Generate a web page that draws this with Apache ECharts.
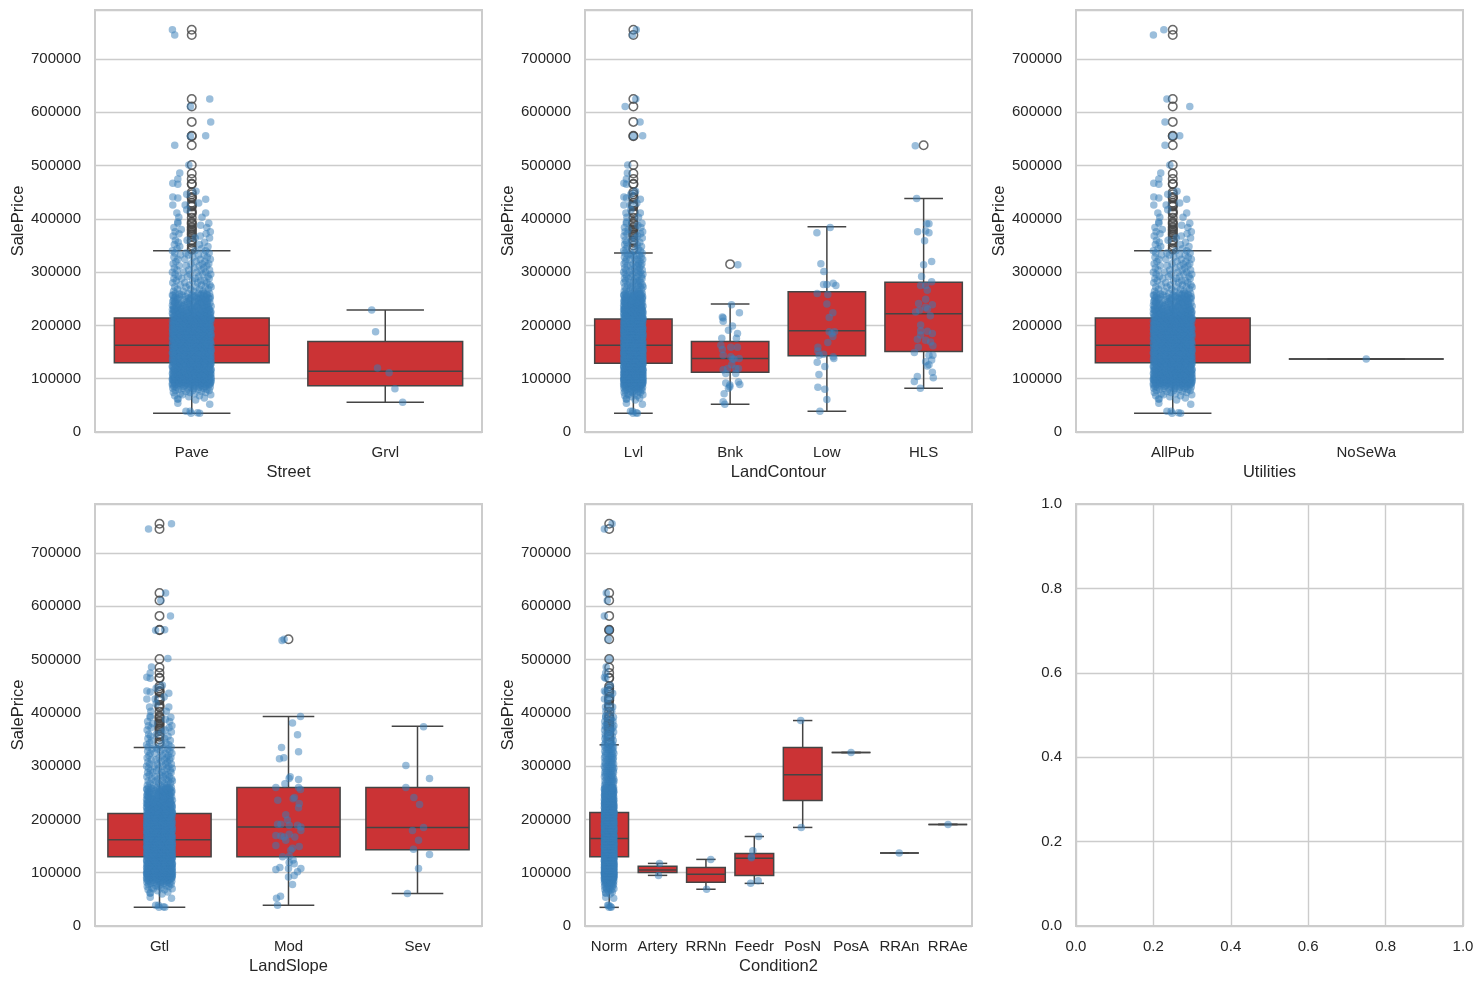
<!DOCTYPE html>
<html><head><meta charset="utf-8">
<style>html,body{margin:0;padding:0;background:#fff}#c{width:1484px;height:984px}</style>
<script src="https://cdn.jsdelivr.net/npm/echarts@6/dist/echarts.min.js"></script>
</head><body><div id="c"></div>
<script>
// Box statistics in thousands: [low whisker, Q1, median, Q3, high whisker]
const streetCats = ['Pave','Grvl'];
const streetBoxes = [[35,130,163,214,340],[56,87,114,170,229]];
const contourCats = ['Lvl','Bnk','Low','HLS'];
const contourBoxes = [[35,129,163,212,336],[52,112,138,170,240],[39,143,190,263,385],[82,151,222,281,438]];
const utilCats = ['AllPub','NoSeWa'];
const utilBoxes = [[35,130,163,214,340],[137,137,137,137,137]];
const slopeCats = ['Gtl','Mod','Sev'];
const slopeBoxes = [[35,130,162,211,335],[39,130,186,260,393],[61,143,185,260,375]];
const condCats = ['Norm','Artery','RRNn','Feedr','PosN','PosA','RRAn','RRAe'];
const condBoxes = [[35,130,164,213,340],[95,100.6,105,112,117.5],[69,82,97,110,125],[80,95,127,136,168],[185,235.6,284,335,385.6],[325.6,325.6,325.6,325.6,325.6],[137,137,137,137,137],[190.6,190.6,190.6,190.6,190.6]];

// Outlier prices (thousands)
const fliersTop = [755,745,625,611,582,556,555];
const fliersMid = [501,485,475,466,465,450,446,441,440,438,430,426,424,423,415,412,410,402,394,392,390,385,383,380,378,375,372,370,367,360,359,355,350,345,342];

// Strip dots: rows of [price in thousands, horizontal offsets in thousandths of a category]
const sharedRows = [
[35,-4,41],[36,30],[39,-30,-8],[52,93],[54,-72],[60,20],[62,-74,-70],[64,65],[66,-15],[68,-88,40],[70,98,-48],[72,-60,15],
[74,-95,72,-10],[76,-30,50],[78,-85,90,5],[80,-68,-20,34,78],[82,-98,-44,12,60],[84,-80,-5,95,38],[86,-58,22,70,-92],
[88,-100,-34,48,88,-12],[90,-72,6,64,-50,96],[92,-90,-24,30,80,-62,52],[94,-40,14,99,-78,66,-8],[96,-96,-56,-18,42,74,20,88],
[98,-84,-30,6,58,92,-64,34,-100],[101,-50,-12,26,70,-92,100,48,-74],[104,-98,-66,-28,16,54,82,-6,36],[107,-82,-44,2,38,94,-20,66,-58],
[110,-100,-60,-10,30,76,50,-36,96],[113,-76,-38,10,44,88,-90,22,64],[116,-94,-52,-16,28,60,99,-72,4],[119,-68,-26,18,56,84,-86,40,-6],
[122,-100,-46,-2,34,72,92,-62,12],[125,-80,-32,8,48,96,-56,66,24],[128,-92,-14,26,62,100,-70,-40,44],[131,-58,-20,14,52,86,-98,-78,32],
[134,-84,-48,0,38,76,98,-28,60],[137,-100,-64,-12,24,68,90,-36,46],[140,-74,-30,10,56,94,-90,-52,30],[143,-96,-44,-4,42,80,100,-22,62],
[146,-66,-26,16,50,88,-82,-8,72],[149,-100,-54,-18,28,64,96,-72,6],[152,-86,-36,4,40,78,-60,22,100],[155,-94,-48,-10,34,70,90,-24,54],
[158,-76,-28,12,58,98,-100,-56,44],[161,-88,-40,-2,26,66,84,-68,18],[164,-98,-62,-16,36,74,100,-30,52],[167,-70,-22,8,46,92,-84,-46,28],
[170,-92,-50,-6,32,62,96,-74,14],[173,-100,-34,20,56,82,-64,-14,42],[176,-80,-42,2,38,90,-96,68,-20],[179,-58,-12,24,72,100,-88,48,-32],
[182,-94,-66,-26,16,60,84,-46,36],[185,-78,-36,6,44,96,-100,66,-16],[188,-90,-52,-8,30,76,-70,54,12],[191,-98,-28,22,58,92,-62,40,-44],
[194,-84,-40,4,48,86,-18,68,100],[197,-72,-24,14,34,78,-96,-54,56],[200,-100,-58,-10,42,94,-34,20,70],[203,-88,-46,0,62,82,-70,28,-16],
[206,-76,-30,18,50,98,-94,-6,38],[209,-92,-56,-20,26,72,-40,8,88],[212,-82,-12,36,64,100,-66,-34,46],[215,-98,-48,4,54,80,-74,22,92],
[218,-86,-26,30,68,-58,10],[221,-96,-42,-4,44,88,74],[224,-70,-18,20,60,98,-52],[227,-90,-34,6,52,78,-64],[230,-100,-60,16,40,92,-10],
[233,-82,-28,-2,66,84],[236,-94,-46,24,56,100],[239,-72,-14,32,76,-38],[242,-88,-54,8,48,94],[245,-98,-24,18,62,82],[248,-78,-40,-6,36,70],
[251,-92,-16,28,88,54],[254,-66,-32,12,74,96],[257,-100,-50,2,44,80],[260,-84,-20,34,64,92],[264,-94,-44,10,58],[268,-74,-6,40,86],
[272,-88,-30,22,70,100],[276,-60,-12,50,94],[280,-98,-36,30,78],[284,-80,4,46,66],[288,-92,-52,18,90],[292,-70,-22,36,84],
[296,-86,-8,58,98],[300,-100,-42,26,72],[304,-76,-16,48,92],[308,-90,12,62],[312,-64,-28,78,38],[316,-96,-4,54,88],[320,-82,22,68],
[324,-72,-36,44,96],[328,-92,6,80],[332,-58,34,64,-18],[336,-88,-30,90],[340,-100,16,72],[344,-76,50],[348,-62,84],[352,-90,40],
[356,-70,66],[360,-84,-24],[364,18,92],[368,-96,44],[372,-66,74],[376,-86,96],[380,-54],[384,-92,78],[388,46],
[392,88,-72],[394,-72],[403,-67,53],[411,-77,72],[417,-26],[426,-98,-34],[430,36],[437,72],[439,-72],[441,-98],[446,-26],[452,22],[465,-72],[467,-98],[475,-72],[486,-62]
];
// Second pass through the crowded middle of the column
const crowdRows = [
[86,-42,8,56],[89,-84,-20,74,32],[91,-100,-6,44,90],[93,-66,18,-32,96,60],[95,-88,-46,28,76,2],[97,-74,-12,50,100,-34],[99,-94,-54,14,38,84,64],
[100,-80,-22,-44,6,62,90,-100,32],[103,-60,-14,22,46,74,-88,98,-36],[106,-92,-70,-30,10,52,86,30,-48],[109,-78,-18,18,42,68,100,-54,-96],
[112,-64,-32,-4,36,58,92,-84,12],[115,-98,-40,24,50,80,-70,-8,96],[118,-86,-56,-20,8,46,72,100,32],[121,-74,-34,16,40,66,90,-94,-10],
[124,-100,-68,-24,0,54,82,-44,28],[127,-82,-50,-6,20,60,94,-28,40],[130,-90,-62,-16,34,70,98,-38,6],[133,-72,-42,-10,22,48,88,-96,64],
[136,-86,-54,-20,14,36,78,100,-2],[139,-98,-66,-32,2,44,72,92,26],[142,-80,-12,18,52,84,-58,-36,68],[145,-92,-46,-24,8,38,96,-70,60],
[148,-76,-16,30,46,74,-100,-40,90],[151,-64,-30,12,56,82,-94,-6,34],[154,-84,-60,-18,24,66,100,-42,4],[157,-96,-50,-8,40,60,86,-26,16],
[160,-72,-36,2,32,76,94,-90,52],[163,-82,-56,-14,20,48,88,-4,70],[166,-100,-44,-22,10,60,78,-66,34],[169,-86,-32,16,54,98,-60,-10,74],
[172,-78,-52,-18,6,44,90,26,66],[175,-94,-28,30,58,84,-68,-8,-44],[178,-100,-74,-36,12,50,94,-16,70],[181,-84,-54,-4,22,64,88,-30,40],
[184,-92,-62,-20,8,48,78,100,30],[187,-70,-34,18,36,82,-98,-10,56],[190,-86,-48,-6,26,66,94,-26,4],[193,-100,-60,-14,16,52,74,-78,38],
[196,-90,-38,2,30,64,96,-58,-18],[199,-76,-24,10,46,88,-64,-42,72],[202,-96,-52,-8,34,60,80,18,-30],[205,-84,-66,-16,24,42,92,-36,70],
[208,-100,-72,-28,14,56,84,-46,2],[211,-90,-54,-4,30,68,96,-22,48],[214,-78,-34,20,44,76,-62,-10,100],
[217,-92,-40,-14,38,84,60],[220,-76,-54,-8,28,96,50],[223,-100,-30,6,44,80,-62],[226,-84,-46,-16,34,66,98],[229,-72,-24,12,54,90,-94],
[232,-92,-52,2,46,74],[235,-78,-8,30,86],[238,-100,-58,14,64],[241,-68,-22,40,80],[244,-86,28,52],[247,-94,-12,76],
[250,-72,46,94],[253,-84,-4,36],[256,-96,14,60],[259,-64,52,78]
];
const upperStreet = [[-100,755],[-88,745],[93,625],[-7,611],[98,582],[72,556],[-7,555],[-88,538],[-15,501]];
const upperLvl = [[30,755],[-10,745],[25,625],[-85,611],[69,582],[96,556],[0,555],[-58,501]];
const upperUtil = [[-46,755],[-100,745],[-30,625],[88,611],[-40,582],[36,556],[-2,555],[-40,538],[-15,501]];
const upperGtl = [[93,755],[-85,745],[47,625],[10,611],[85,582],[40,556],[-30,555],[65,502]];
const upperNorm = [[60,755],[-100,745],[-60,625],[-40,611],[-100,582],[0,556],[0,555],[-20,538],[0,501]];

const grvlDots = [[-70,229],[-50,188],[-40,120],[20,111],[50,81],[90,56]];
const bnkDots = [[80,314],[14,239],[96,224],[-80,216],[-72,214],[-72,208],[24,199],[-17,191],[76,185],[-86,176],[65,176],[-96,163],[7,159],[76,159],[-80,155],[-72,144],[7,141],[93,138],[24,137],[-27,119],[-72,117],[58,119],[86,119],[17,126],[-45,110],[58,110],[-45,92],[86,94],[100,89],[-3,88],[-17,82],[-62,72],[-72,57],[-55,52],[-3,85],[40,137]];
const lowDots = [[34,384],[-103,374],[-62,316],[-31,301],[-34,277],[0,277],[65,279],[93,275],[-100,260],[10,258],[0,240],[62,224],[24,215],[24,188],[79,188],[52,185],[62,179],[10,168],[-93,159],[-93,152],[-79,144],[-34,146],[65,141],[72,138],[-100,131],[-21,123],[-82,108],[-93,84],[-21,80],[0,61],[-72,39]];
const hlsDots = [[-86,537],[-72,438],[55,391],[31,391],[-62,376],[21,377],[55,374],[10,359],[0,314],[83,320],[-21,292],[83,282],[-31,275],[21,275],[38,266],[21,249],[-52,241],[90,239],[21,234],[41,231],[-41,229],[-83,225],[69,218],[-31,201],[-31,190],[38,189],[90,185],[-31,182],[-65,174],[21,172],[72,169],[96,162],[-55,159],[-96,149],[96,144],[55,144],[83,135],[21,132],[55,126],[38,124],[90,112],[-65,104],[100,102],[-96,95],[-34,82]];
const modDots = [[93,393],[31,381],[70,359],[-54,335],[78,327],[-70,314],[-36,316],[13,280],[5,277],[78,275],[-28,267],[-98,260],[78,260],[93,256],[36,239],[46,241],[-83,236],[83,230],[78,222],[-21,209],[-8,199],[-85,191],[-59,191],[70,189],[96,186],[5,189],[96,179],[-98,170],[-59,169],[-34,167],[5,172],[49,167],[-21,161],[-98,151],[31,146],[83,149],[18,142],[-46,130],[5,131],[36,124],[5,119],[44,117],[0,108],[96,108],[-67,110],[-98,106],[70,102],[44,95],[0,92],[31,78],[-62,56],[-93,52],[-85,39],[-34,538],[-50,536]];
const sevDots = [[47,374],[-90,301],[93,277],[-90,260],[-28,241],[16,228],[47,185],[-39,179],[8,161],[-31,144],[93,134],[8,108],[-78,61]];
const arteryDots = [[40,117.5],[20,95]];
const rrnnDots = [[100,125],[14,69]];
const feedrDots = [[90,168],[-30,141],[-60,128],[80,85],[-76,80],[-60,130]];
const posnDots = [[-40,385.6],[-30,185]];
const posaDots = [[0,325.6]];
const rranDots = [[-5,137]];
const rraeDots = [[5,190.6]];

const flat = sharedRows.concat(crowdRows).flatMap(r => r.slice(1).map(j => [j, r[0]]));
const panels = [
 {name:'Street',cats:streetCats,boxes:streetBoxes,fl:[fliersTop.concat([538],fliersMid),[]],dots:[flat.concat(upperStreet),grvlDots],col:0,row:0},
 {name:'LandContour',cats:contourCats,boxes:contourBoxes,fl:[fliersTop.concat(fliersMid),[315],[],[538]],dots:[flat.concat(upperLvl),bnkDots,lowDots,hlsDots],col:1,row:0},
 {name:'Utilities',cats:utilCats,boxes:utilBoxes,fl:[fliersTop.concat([538],fliersMid),[]],dots:[flat.concat(upperUtil),[[0,137]]],col:2,row:0},
 {name:'LandSlope',cats:slopeCats,boxes:slopeBoxes,fl:[fliersTop.concat(fliersMid),[538],[]],dots:[flat.concat(upperGtl),modDots,sevDots],col:0,row:1},
 {name:'Condition2',cats:condCats,boxes:condBoxes,fl:[fliersTop.concat([538],fliersMid),[],[],[],[],[],[],[]],dots:[flat.concat(upperNorm),arteryDots,rrnnDots,feedrDots,posnDots,posaDots,rranDots,rraeDots],col:1,row:1}
];

const FONT='"Liberation Sans",Arial,sans-serif', TXT='#262626', GRID='#cccccc', EDGE='#444444';
const colX=[95,585,1076], rowY=[10,504], W=387, H=422;
const grids=[],xAxes=[],yAxes=[],series=[];
const lab={color:TXT,fontFamily:FONT,fontSize:15};
const nameStyle={color:TXT,fontFamily:FONT,fontSize:16.5};

panels.forEach((p,i)=>{
  grids.push({left:colX[p.col],top:rowY[p.row],width:W,height:H,show:true,borderColor:GRID,borderWidth:2,backgroundColor:'#fff'});
  const xCat=xAxes.length;
  xAxes.push({type:'category',gridIndex:i,data:p.cats,name:p.name,nameLocation:'middle',nameGap:32,nameTextStyle:nameStyle,
    axisLine:{show:false},axisTick:{show:false},splitLine:{show:false},axisLabel:Object.assign({interval:0,margin:13},lab)});
  const xVal=xAxes.length;
  xAxes.push({type:'value',gridIndex:i,show:false,min:-0.5,max:p.cats.length-0.5,splitLine:{show:false}});
  yAxes.push({type:'value',gridIndex:i,min:0,max:792,interval:100,name:'SalePrice',nameLocation:'middle',nameGap:68,nameTextStyle:nameStyle,
    axisLine:{show:false},axisTick:{show:false},splitLine:{show:true,lineStyle:{color:GRID,width:1.4}},
    axisLabel:Object.assign({margin:14,showMaxLabel:false,formatter:v=>String(v*1000)},lab)});
  series.push({type:'custom',xAxisIndex:xCat,yAxisIndex:i,z:2,clip:false,
    data:p.boxes.map((b,k)=>[k].concat(b)),encode:{x:0,y:[1,2,3,4,5]},
    renderItem:(params,api)=>{
      const c=api.value(0), bw=api.size([1,0])[0]*0.8;
      const px=v=>api.coord([c,v]);
      const [cx,lo]=px(api.value(1)), q1=px(api.value(2))[1], med=px(api.value(3))[1], q3=px(api.value(4))[1], hi=px(api.value(5))[1];
      const ls={stroke:EDGE,lineWidth:1.5,fill:null};
      const line=(x1,y1,x2,y2)=>({type:'line',shape:{x1,y1,x2,y2},style:ls});
      return {type:'group',children:[
        line(cx,lo,cx,q1),line(cx,q3,cx,hi),
        line(cx-bw/4,lo,cx+bw/4,lo),line(cx-bw/4,hi,cx+bw/4,hi),
        {type:'rect',shape:{x:cx-bw/2,y:q3,width:bw,height:q1-q3},style:{fill:'#cb3335',stroke:EDGE,lineWidth:1.5}},
        line(cx-bw/2,med,cx+bw/2,med)
      ]};
    }});
  const fl=[]; p.fl.forEach((list,k)=>list.forEach(v=>fl.push([k,v])));
  series.push({type:'scatter',xAxisIndex:xVal,yAxisIndex:i,z:3,symbolSize:8.5,data:fl,silent:true,
    itemStyle:{color:'rgba(255,255,255,0)',borderColor:EDGE,borderWidth:1.5}});
  const pts=[]; p.dots.forEach((list,k)=>list.forEach(d=>pts.push([k+d[0]/1000,d[1]])));
  series.push({type:'scatter',xAxisIndex:xVal,yAxisIndex:i,z:4,symbolSize:7.5,data:pts,silent:true,progressive:0,
    itemStyle:{color:'#377eb8',opacity:0.5,borderWidth:0}});
});

// Empty sixth panel
grids.push({left:colX[2],top:rowY[1],width:W,height:H,show:true,borderColor:GRID,borderWidth:2,backgroundColor:'#fff'});
const emptyAxis={type:'value',gridIndex:5,min:0,max:1,interval:0.2,axisLine:{show:false},axisTick:{show:false},
  splitLine:{show:true,lineStyle:{color:GRID,width:1.4}}};
xAxes.push(Object.assign({},emptyAxis,{axisLabel:Object.assign({margin:13,formatter:v=>v.toFixed(1)},lab)}));
yAxes.push(Object.assign({},emptyAxis,{axisLabel:Object.assign({margin:14,formatter:v=>v.toFixed(1)},lab)}));

const chart=echarts.init(document.getElementById('c'),null,{renderer:'canvas'});
chart.setOption({animation:false,backgroundColor:'#fff',grid:grids,xAxis:xAxes,yAxis:yAxes,series:series});
</script></body></html>
